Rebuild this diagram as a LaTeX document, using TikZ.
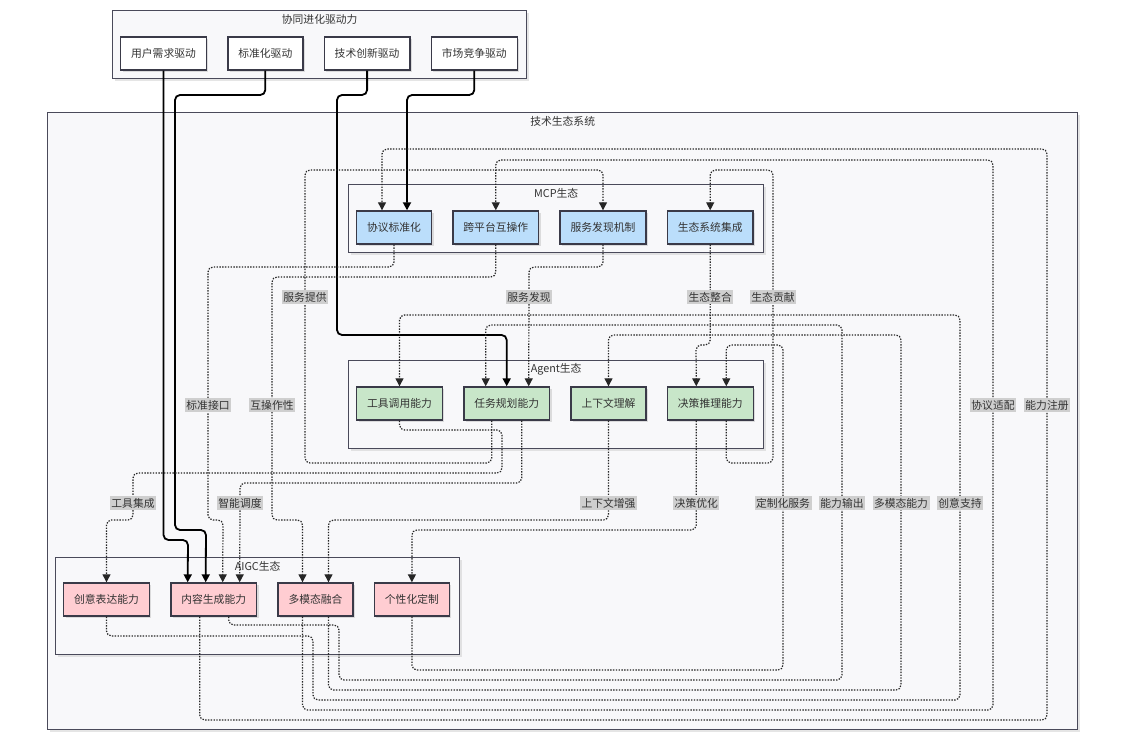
\documentclass[tikz,border=0pt]{standalone}
\usepackage{fontspec}
\setmainfont{Noto Sans CJK SC}
\usetikzlibrary{arrows.meta,positioning,shadows}

\definecolor{mcpblue}{HTML}{BBDEFB}
\definecolor{agentgreen}{HTML}{C8E6C9}
\definecolor{aigcpink}{HTML}{FFCDD2}
\definecolor{groupbg}{HTML}{F8F8FA}
\definecolor{groupline}{HTML}{4A4A5A}
\definecolor{boxline}{HTML}{3A3A48}
\definecolor{labelbg}{HTML}{CFCFCF}
\definecolor{inktext}{HTML}{333333}

\begin{document}
\begin{tikzpicture}[x=1pt, y=-1pt, >={Triangle[length=8pt,width=8pt]},
    font=\fontsize{10.8}{13}\selectfont, text=inktext]
          \tikzstyle{group}=[draw=groupline, line width=1.3pt, fill=groupbg, anchor=north west, inner sep=0pt,
                             drop shadow={shadow xshift=2pt, shadow yshift=-2pt, fill=black!20, opacity=.5}]
          \tikzstyle{grouptitle}=[inner sep=0pt]
          \tikzstyle{box}=[draw=boxline, line width=1.4pt, minimum height=33pt, inner xsep=10.5pt,
                           drop shadow={shadow xshift=2pt, shadow yshift=-2pt, fill=black!25, opacity=.5}]
          \tikzstyle{driver}=[box, fill=white]
          \tikzstyle{mcp}=[box, fill=mcpblue]
          \tikzstyle{agent}=[box, fill=agentgreen]
          \tikzstyle{aigc}=[box, fill=aigcpink]
          \tikzstyle{drive}=[->, line width=1.8pt, draw=black, rounded corners=5pt]
          \tikzstyle{link}=[->, line width=1.2pt, draw=black!85, dash pattern=on 1.4pt off 1.4pt, rounded corners=5pt]
          \tikzstyle{lbl}=[fill=labelbg, sharp corners, inner xsep=1.5pt, inner ysep=2pt]

          \fill[white] (0,0) rectangle (1135,751);
          \useasboundingbox (0,0) rectangle (1135,751);

          % groups
          \node[group, minimum width=414pt, minimum height=68pt]  (drvgrp) at (112,10)  {};
          \node[group, minimum width=1030pt, minimum height=617pt] (ecogrp) at (47,112) {};
          \node[group, minimum width=415pt, minimum height=68pt]  (mcpgrp) at (348,184) {};
          \node[group, minimum width=415pt, minimum height=88pt]  (agtgrp) at (348,360) {};
          \node[group, minimum width=404pt, minimum height=97pt]  (gengrp) at (55,557)  {};
          \node[grouptitle] (drvtitle) at ([yshift=-9pt]drvgrp.north) {协同进化驱动力};
          \node[grouptitle] (ecotitle) at ([yshift=-9pt]ecogrp.north) {技术生态系统};
          \node[grouptitle] (mcptitle) at ([yshift=-9pt]mcpgrp.north) {MCP生态};
          \node[grouptitle] (agttitle) at ([yshift=-9pt]agtgrp.north) {Agent生态};
          \node[grouptitle] (gentitle) at ([yshift=-9pt]gengrp.north) {AIGC生态};

          % nodes
          \node[driver] (d1) at (163.5,53.5)  {用户需求驱动};
          \node[driver] (d2) [right=20pt of d1] {标准化驱动};
          \node[driver] (d3) [right=20pt of d2] {技术创新驱动};
          \node[driver] (d4) [right=20pt of d3] {市场竞争驱动};

          \node[mcp]    (m1) at (394,227.5)   {协议标准化};
          \node[mcp]    (m2) [right=20pt of m1] {跨平台互操作};
          \node[mcp]    (m3) [right=20pt of m2] {服务发现机制};
          \node[mcp]    (m4) [right=20pt of m3] {生态系统集成};

          \node[agent]  (a1) at (399.5,403.5) {工具调用能力};
          \node[agent]  (a2) [right=20pt of a1] {任务规划能力};
          \node[agent]  (a3) [right=20pt of a2] {上下文理解};
          \node[agent]  (a4) [right=20pt of a3] {决策推理能力};

          \node[aigc]   (g1) at (106.5,599.5) {创意表达能力};
          \node[aigc]   (g2) [right=20pt of g1] {内容生成能力};
          \node[aigc]   (g3) [right=20pt of g2] {多模态融合};
          \node[aigc]   (g4) [right=20pt of g3] {个性化定制};

          % drivers
          \draw[drive] (d1.south) |- (188,540) -- ([xshift=-26pt]g2.north);
          \draw[drive] (d2.south) |- (175,95) |- (206,530) -- ([xshift=-8pt]g2.north);
          \draw[drive] (d3.south) |- (337,95) |- (a2.north |- 0,335) -- (a2.north);
          \draw[drive] (d4.south) |- (407,95) -- ([xshift=13pt]m1.north);

          % MCP -> Agent / AIGC
          \draw[link] (m3.south) |- (529,267) -- (529,297) node[lbl] {服务发现} -- ([xshift=22pt]a2.north);
          \draw[link] (m4.south) -- (m4.south |- 0,297) node[lbl] {生态整合} |- (696,345) -- ([xshift=-14pt]a4.north);
          \draw[link] (m1.south) |- (208,267) -- (208,405) node[lbl] {标准接口} |- (223,520) -- ([xshift=9pt]g2.north);
          \draw[link] (m2.south) |- (272,277) -- (272,405) node[lbl] {互操作性} |- (302.5,520) -- ([xshift=-13pt]g3.north);

          % Agent -> MCP / AIGC
          \draw[link] ([xshift=16pt]a4.south) |- (773,463) -- (773,297) node[lbl] {生态贡献} |- (m4.north |- 0,170) -- (m4.north);
          \draw[link] ([xshift=-15pt]a2.south) |- (305,463) -- (305,297) node[lbl] {服务提供} |- (m3.north |- 0,170) -- (m3.north);
          \draw[link] (a1.south) |- (502,430) |- (133,473) -- (133,503) node[lbl] {工具集成} |- (g1.north |- 0,520) -- (g1.north);
          \draw[link] ([xshift=15pt]a2.south) |- (240,483) -- (240,503) node[lbl] {智能调度} -- ([xshift=26pt]g2.north);
          \draw[link] (a3.south) -- (a3.south |- 0,503) node[lbl] {上下文增强} |- (328.5,520) -- ([xshift=13pt]g3.north);
          \draw[link] ([xshift=-14pt]a4.south) |- node[lbl, pos=.377] {决策优化} (g4.north |- 0,530) -- (g4.north);

          % AIGC -> Agent / MCP
          \draw[link] (g4.south) |- (783,670) -- (783,503) node[lbl] {定制化服务} |- (726.3,345) -- ([xshift=16pt]a4.north);
          \draw[link] ([xshift=15pt]g2.south) |- (339,625) |- (842,680) -- (842,503) node[lbl] {能力输出} |- (485.7,325) -- ([xshift=-21pt]a2.north);
          \draw[link] ([xshift=13pt]g3.south) |- (901,690) -- (901,503) node[lbl] {多模态能力} |- (a3.north |- 0,335) -- (a3.north);
          \draw[link] (g1.south) |- (313,636) |- (960,700) -- (960,503) node[lbl] {创意支持} |- (a1.north |- 0,315) -- (a1.north);
          \draw[link] ([xshift=-13pt]g3.south) |- (993,710) -- (993,405) node[lbl] {协议适配} |- (m2.north |- 0,160) -- (m2.north);
          \draw[link] ([xshift=-14pt]g2.south) |- (1047,720) -- (1047,405) node[lbl] {能力注册} |- (382,149) -- ([xshift=-12pt]m1.north);
\end{tikzpicture}
\end{document}
